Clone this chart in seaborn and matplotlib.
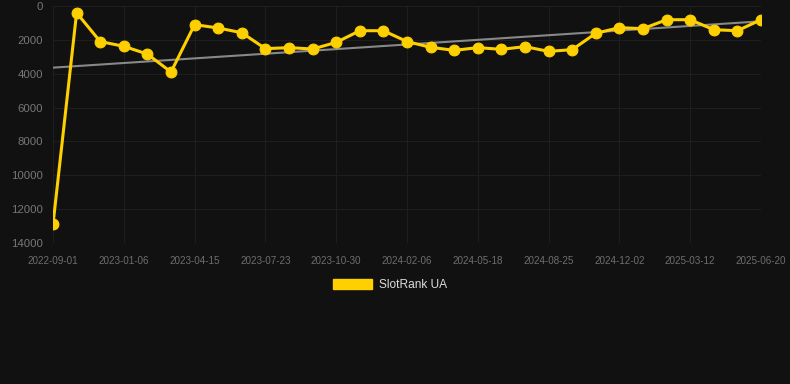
import numpy as np
import pandas as pd
import matplotlib
matplotlib.use("Agg")
import matplotlib.pyplot as plt
from matplotlib.patches import Patch
import seaborn as sns

dates = ["2022-09-01", "2022-10-13", "2022-11-24", "2023-01-06", "2023-02-08", "2023-03-13",
         "2023-04-15", "2023-05-18", "2023-06-20", "2023-07-23", "2023-08-25", "2023-09-27",
         "2023-10-30", "2023-12-02", "2024-01-04", "2024-02-06", "2024-03-10", "2024-04-14",
         "2024-05-18", "2024-06-20", "2024-07-23", "2024-08-25", "2024-09-27", "2024-10-30",
         "2024-12-02", "2025-01-04", "2025-02-07", "2025-03-12", "2025-04-14", "2025-05-17",
         "2025-06-20"]
ranks = [12900, 400, 2100, 2380, 2840, 3900, 1100, 1300, 1580, 2520, 2460, 2540, 2150,
         1460, 1460, 2100, 2440, 2620, 2460, 2560, 2400, 2680, 2580, 1610, 1280, 1340,
         810, 810, 1400, 1460, 810]
y_ticks = [0, 2000, 4000, 6000, 8000, 10000, 12000, 14000]
series_name = "SlotRank UA"

bg = "#111111"
yellow = "#FFD000"

sns.set_theme(style="dark")
plt.rcParams["font.family"] = ["Liberation Sans", "DejaVu Sans"]

df = pd.DataFrame({"pos": np.arange(len(dates)), "date": dates, "rank": ranks})
coef = np.polyfit(df["pos"], df["rank"], 1)
df["trend"] = np.polyval(coef, df["pos"])

fig = plt.figure(figsize=(7.9, 3.84), dpi=100, facecolor=bg)
ax = fig.add_axes([53 / 790, 1 - 243 / 384, (761 - 53) / 790, (243 - 6) / 384])
ax.set_facecolor(bg)

sns.lineplot(data=df, x="pos", y="trend", ax=ax, color="#888888", linewidth=1.5, zorder=2)
sns.lineplot(data=df, x="pos", y="rank", ax=ax, color=yellow, linewidth=2.2,
             marker="o", markersize=7.8, markeredgecolor=yellow, zorder=3)

ax.set_xlim(0, len(dates) - 1)
ax.set_ylim(14000, 0)
ax.set_yticks(y_ticks)
ax.set_yticklabels([str(v) for v in y_ticks])
tick_pos = list(range(0, len(dates), 3))
ax.set_xticks(tick_pos)
ax.set_xticklabels([dates[i] for i in tick_pos])
ax.set_xlabel("")
ax.set_ylabel("")
ax.grid(True, color="#1e1e1e", linewidth=0.8)
ax.axhline(14000, color="#2a2a2a", linewidth=0.8, zorder=1)
ax.tick_params(axis="y", colors="#777777", labelsize=8.2, length=0, pad=7)
ax.tick_params(axis="x", colors="#6e6e6e", labelsize=7.1, length=0, pad=9)
for s in ax.spines.values():
    s.set_visible(False)

handle = Patch(facecolor=yellow, edgecolor=yellow)
fig.legend([handle], [series_name], loc="center", bbox_to_anchor=(390 / 790, 1 - 285 / 384),
           frameon=False, fontsize=8.6, labelcolor="#dddddd", handlelength=3.25,
           handleheight=0.95, handletextpad=0.58)

fig.savefig("out.png", dpi=100, facecolor=bg)
